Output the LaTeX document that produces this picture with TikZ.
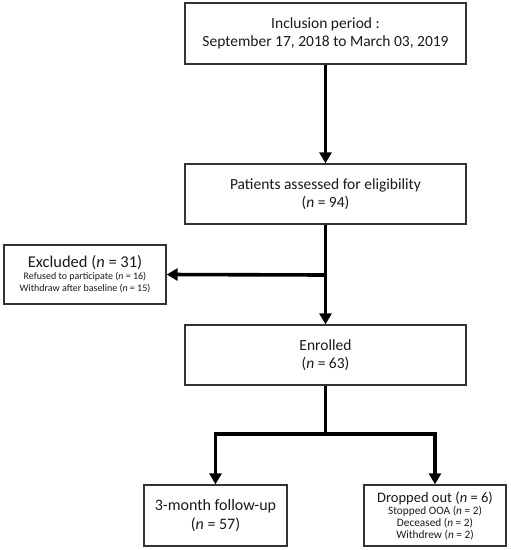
\documentclass[tikz,border=0pt]{standalone}
\usepackage{fontspec}
\setmainfont{Carlito}
\usetikzlibrary{arrows.meta}
\definecolor{bordc}{HTML}{333333}
\definecolor{txtc}{HTML}{1A1A1A}
\tikzset{
  box/.style={draw=bordc, line width=1.3pt, rectangle, inner sep=0pt, align=center, text=txtc},
  conn/.style={line width=3.6pt, draw=black},
  arr/.style={conn, -{Triangle[length=11pt,width=12pt]}},
  big/.style={font=\fontsize{15.5}{18}\selectfont},
}
\newcommand{\smallsz}{\fontsize{10}{14}\selectfont}
\newcommand{\smallszb}{\fontsize{11.3}{13}\selectfont}
\begin{document}
\begin{tikzpicture}[x=1pt,y=-1pt]
\useasboundingbox (0,0) rectangle (511,550);
\node[box,big,minimum width=281pt,minimum height=61pt] (incl) at (325.5,33.5) {Inclusion period :\\September 17, 2018 to March 03, 2019};
\node[box,big,minimum width=281pt,minimum height=60pt] (elig) at (325.5,194) {Patients assessed for eligibility\\(\textit{n} = 94)};
\node[box,big,minimum width=281pt,minimum height=60pt] (enr) at (325.5,355) {Enrolled\\(\textit{n} = 63)};
\node[box,minimum width=162pt,minimum height=59pt] (excl) at (85,274.5) {{\fontsize{16.5}{16}\selectfont Excluded (\textit{n} = 31)}\\[0pt]{\smallsz Refused to participate (\textit{n} = 16)}\\[0pt]{\smallsz Withdraw after baseline (\textit{n} = 15)}};
\node[box,font=\fontsize{16}{19}\selectfont,minimum width=143pt,minimum height=61pt] (fup) at (215.5,515.5) {3-month follow-up\\(\textit{n} = 57)};
\node[box,minimum width=142pt,minimum height=61pt] (drop) at (435,515.5) {{\fontsize{14.5}{15}\selectfont Dropped out (\textit{n} = 6)}\\[0pt]{\smallszb Stopped OOA (\textit{n} = 2)}\\[0pt]{\smallszb Deceased (\textit{n} = 2)}\\[0pt]{\smallszb Withdrew (\textit{n} = 2)}};
\coordinate (br) at (325.5,275);
\coordinate (sp) at (325.5,434);
\draw[arr] (incl.south) -- (elig.north);
\draw[arr] (elig.south) -- (enr.north);
\draw[arr] (br) -- (excl.east);
\draw[conn] (enr.south) -- (sp);
\draw[arr] (sp) -| (fup.north);
\draw[arr] (sp) -| (drop.north);
\end{tikzpicture}
\end{document}
